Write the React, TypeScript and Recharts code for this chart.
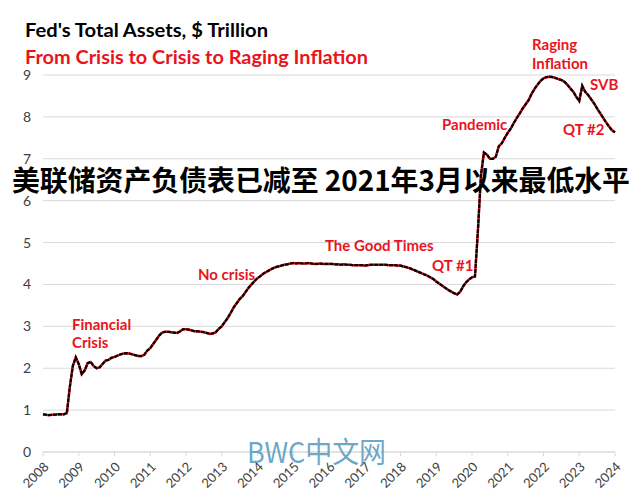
import { LineChart, Line, XAxis, YAxis, CartesianGrid } from 'recharts';

// Fed total assets, $ trillion, month-start readings (Jan..Dec)
const assets2008 = [0.9, 0.89, 0.88, 0.89, 0.89, 0.9, 0.9, 0.9, 0.93, 1.55, 2.05, 2.26];
const assets2009 = [2.1, 1.86, 1.95, 2.12, 2.15, 2.05, 2.0, 2.02, 2.1, 2.18, 2.2, 2.25];
const assets2010 = [2.27, 2.3, 2.33, 2.35, 2.36, 2.35, 2.33, 2.31, 2.29, 2.29, 2.32, 2.42];
const assets2011 = [2.48, 2.58, 2.68, 2.78, 2.85, 2.87, 2.87, 2.86, 2.85, 2.84, 2.88, 2.93];
const assets2012 = [2.93, 2.92, 2.9, 2.88, 2.88, 2.87, 2.86, 2.84, 2.82, 2.83, 2.86, 2.94];
const assets2013 = [3.0, 3.1, 3.2, 3.32, 3.45, 3.55, 3.65, 3.72, 3.82, 3.92, 4.0, 4.08];
const assets2014 = [4.15, 4.2, 4.26, 4.3, 4.34, 4.38, 4.41, 4.43, 4.45, 4.47, 4.48, 4.5];
const assets2015 = [4.51, 4.5, 4.51, 4.5, 4.5, 4.51, 4.5, 4.49, 4.49, 4.5, 4.49, 4.49];
const assets2016 = [4.49, 4.49, 4.48, 4.48, 4.47, 4.48, 4.47, 4.47, 4.46, 4.46, 4.46, 4.46];
const assets2017 = [4.45, 4.46, 4.47, 4.47, 4.47, 4.47, 4.47, 4.47, 4.46, 4.46, 4.46, 4.45];
const assets2018 = [4.45, 4.43, 4.41, 4.39, 4.36, 4.33, 4.3, 4.27, 4.24, 4.21, 4.17, 4.13];
const assets2019 = [4.07, 4.02, 3.97, 3.92, 3.87, 3.83, 3.79, 3.76, 3.82, 3.95, 4.05, 4.12];
const assets2020 = [4.17, 4.19, 5.3, 6.6, 7.15, 7.1, 7.0, 7.0, 7.05, 7.3, 7.37, 7.5];
const assets2021 = [7.62, 7.72, 7.85, 7.97, 8.08, 8.2, 8.3, 8.4, 8.55, 8.67, 8.77, 8.86];
const assets2022 = [8.92, 8.95, 8.96, 8.95, 8.93, 8.9, 8.88, 8.84, 8.77, 8.68, 8.6, 8.48];
const assets2023 = [8.38, 8.74, 8.6, 8.52, 8.42, 8.32, 8.2, 8.09, 7.98, 7.87, 7.77, 7.68];
const assets2024 = [7.63];

const years = [2008, 2009, 2010, 2011, 2012, 2013, 2014, 2015, 2016, 2017, 2018, 2019, 2020, 2021, 2022, 2023, 2024];
const yearSeries = [
    assets2008, assets2009, assets2010, assets2011, assets2012, assets2013, assets2014, assets2015,
    assets2016, assets2017, assets2018, assets2019, assets2020, assets2021, assets2022, assets2023, assets2024,
];
const yTicks = [0, 1, 2, 3, 4, 5, 6, 7, 8, 9];

const chartData = yearSeries.flatMap((vals, i) =>
    vals.map((v, m) => ({ t: years[i] + m / 12, v }))
);

const RED = '#e8141c';
const annStyle = { fill: RED, fontSize: 15, fontWeight: 700, fontFamily: 'Lato, sans-serif' };

export default function App() {
    return (
        <div style={{ position: 'absolute', left: 0, top: 0, width: 640, height: 494, background: '#fff' }}>
            <LineChart width={640} height={494} data={chartData} margin={{ top: 75, right: 25, left: 0, bottom: 0 }}>
                <CartesianGrid vertical={false} stroke="#d9d9d9" />
                <XAxis
                    dataKey="t"
                    type="number"
                    domain={[2008, 2024]}
                    ticks={years}
                    interval={0}
                    height={42}
                    stroke="#d9d9d9"
                    tickSize={4}
                    tick={({ x, y, payload }: any) => (
                        <text x={x + 3} y={y + 6} transform={`rotate(-45 ${x + 3} ${y + 6})`} textAnchor="end"
                            dominantBaseline="central" fontSize={13} fill="#404040" fontFamily="Lato, sans-serif">
                            {payload.value}
                        </text>
                    )}
                />
                <YAxis
                    domain={[0, 9]}
                    ticks={yTicks}
                    width={43}
                    axisLine={false}
                    tickLine={false}
                    tickSize={0}
                    tickMargin={12}
                    tick={{ fontSize: 14, fill: '#404040', fontFamily: 'Lato, sans-serif' }}
                />
                <Line type="linear" dataKey="v" stroke={RED} strokeWidth={2.5} dot={false} isAnimationActive={false} />
                <Line type="linear" dataKey="v" stroke="#000" strokeWidth={2.2} strokeDasharray="4 1" dot={false} isAnimationActive={false} />
            </LineChart>
            <svg width={640} height={494} style={{ position: 'absolute', left: 0, top: 0, pointerEvents: 'none' }}>
                <text x={25} y={37} fontSize={19} fontWeight={700} fill="#000" fontFamily="Lato, sans-serif"
                    textLength={243} lengthAdjust="spacingAndGlyphs">Fed's Total Assets, $ Trillion</text>
                <text x={25} y={64} fontSize={19} fontWeight={700} fill={RED} fontFamily="Lato, sans-serif"
                    textLength={343} lengthAdjust="spacingAndGlyphs">From Crisis to Crisis to Raging Inflation</text>

                <text x={72} y={330} {...annStyle}>Financial</text>
                <text x={72} y={348} {...annStyle}>Crisis</text>
                <text x={198} y={280} {...annStyle}>No crisis</text>
                <text x={325} y={251} {...annStyle}>The Good Times</text>
                <text x={432} y={271} {...annStyle}>QT #1</text>
                <text x={442} y={130} {...annStyle}>Pandemic</text>
                <text x={532} y={50} {...annStyle}>Raging</text>
                <text x={532} y={69} {...annStyle}>Inflation</text>
                <text x={590} y={90} {...annStyle}>SVB</text>
                <text x={563} y={135} {...annStyle}>QT #2</text>

                <text x={12} y={191} fontSize={28} fontWeight={700} fill="#000" fontFamily="'Noto Sans CJK SC', sans-serif"
                    textLength={618} lengthAdjust="spacingAndGlyphs">美联储资产负债表已减至 2021年3月以来最低水平</text>
                <text x={247} y={463} fontSize={29} fill="#5a9cc2" fillOpacity={0.9} fontFamily="'Noto Sans CJK SC', sans-serif"
                    textLength={139} lengthAdjust="spacingAndGlyphs">BWC中文网</text>
            </svg>
        </div>
    );
}
